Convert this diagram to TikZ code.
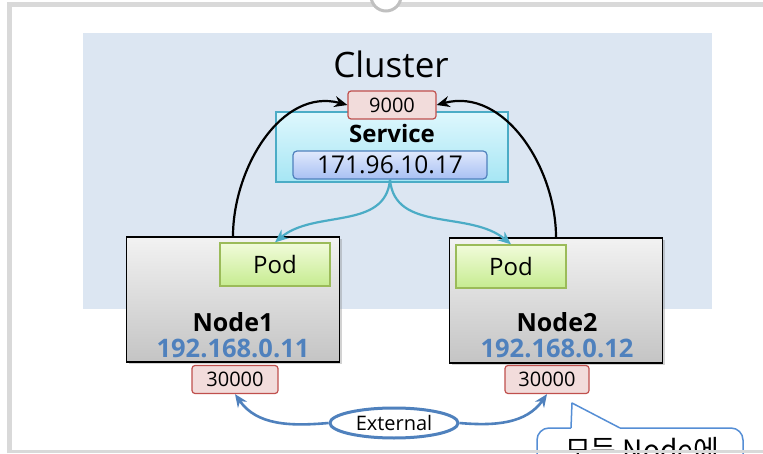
\documentclass[tikz,border=0pt]{standalone}
\usepackage{fontspec}
\setmainfont{Open Sans}
\newfontfamily\kr{Noto Sans CJK KR}
\usetikzlibrary{arrows.meta,shadows,shapes.geometric}

\definecolor{framegray}{HTML}{D9D9D9}
\definecolor{ringgray}{HTML}{C0C0C0}
\definecolor{clusterbg}{HTML}{DCE6F2}
\definecolor{portfill}{HTML}{F2DCDB}
\definecolor{portline}{HTML}{C0504D}
\definecolor{svctop}{HTML}{DEF7FD}
\definecolor{svcbot}{HTML}{A6E6F4}
\definecolor{svcline}{HTML}{4BACC6}
\definecolor{iptop}{HTML}{E0E9FC}
\definecolor{ipbot}{HTML}{A8C0F3}
\definecolor{ipline}{HTML}{4F81BD}
\definecolor{podtop}{HTML}{F1FBDA}
\definecolor{podbot}{HTML}{C6EC90}
\definecolor{podline}{HTML}{9BBB59}
\definecolor{nodetop}{HTML}{F2F2F2}
\definecolor{nodebot}{HTML}{C4C4C4}
\definecolor{addrblue}{HTML}{4F81BD}
\definecolor{callline}{HTML}{558ED5}

\tikzset{
  port/.style={rectangle,rounded corners=3pt,draw=portline,fill=portfill,line width=1.2pt,
    minimum height=28pt,inner sep=0pt,font=\fontsize{20}{22}\selectfont},
  hostbox/.style={rectangle,draw=black,line width=1.3pt,top color=nodetop,bottom color=nodebot,
    minimum width=213pt,minimum height=125pt,
    drop shadow={opacity=0.35,shadow xshift=2pt,shadow yshift=-2pt}},
  podbox/.style={rectangle,draw=podline,line width=1.3pt,top color=podtop,bottom color=podbot,
    minimum width=110pt,minimum height=43pt,font=\fontsize{24}{26}\selectfont},
  hostname/.style={inner sep=0pt,font=\bfseries\fontsize{25}{27}\selectfont},
  hostaddr/.style={inner sep=0pt,text=addrblue,font=\bfseries\fontsize{25.5}{27}\selectfont}
}

\begin{document}
\begin{tikzpicture}[x=1pt,y=1pt]
\useasboundingbox (0,0) rectangle (763,453);
\fill[white] (0,0) rectangle (763,453);

% window frame
\draw[framegray,line width=5pt] (9.5,0) -- (9.5,448.5) -- (763,448.5);
\fill[framegray] (7,0) rectangle (763,3.5);
\draw[ringgray,line width=3pt,fill=white] (386,457) circle (15);

% cluster area
\fill[clusterbg] (83,144) rectangle (712,420);
\node[inner sep=0pt,font=\fontsize{35}{38}\selectfont] (C) at (391,389) {Cluster};

\node[rectangle,draw=svcline,line width=1.3pt,top color=svctop,bottom color=svcbot,
      minimum width=232pt,minimum height=70pt] (S) at (392,306) {};
\node[hostname,font=\bfseries\fontsize{24}{26}\selectfont] (SL) at (392,319) {Service};
\node[rectangle,rounded corners=4pt,draw=ipline,line width=1.2pt,top color=iptop,bottom color=ipbot,
      minimum width=194pt,minimum height=28pt,inner sep=0pt,font=\fontsize{24.5}{26}\selectfont]
      (I) at (390,288) {171.96.10.17};
\node[port,minimum width=88pt] (P) at (392,348) {9000};

% nodes
\node[hostbox] (N1) at (233,153.5) {};
\node[podbox] (D1) at (275,188.5) {Pod};
\node[hostname] (L1) at (233,131) {Node1};
\node[hostaddr] (A1) at (233,105) {192.168.0.11};
\node[port,minimum width=86pt] (E1) at (235,73.5) {30000};

\node[hostbox] (N2) at (556,152.5) {};
\node[podbox] (D2) at (511,186.5) {Pod};
\node[hostname] (L2) at (557,131) {Node2};
\node[hostaddr] (A2) at (557,105) {192.168.0.12};
\node[port,minimum width=84pt] (E2) at (547,73.5) {30000};

\node[ellipse,draw=ipline,line width=3pt,fill=white,minimum width=128pt,minimum height=30pt,
      inner sep=0pt,font=\fontsize{20}{22}\selectfont] (X) at (394,30) {External};

\begin{scope}[>={Stealth[length=13pt,width=11pt]},
              every edge/.style={draw=black,line width=2.2pt}]
    \path [->] (N1.north) edge[out=90,in=165] (P.west);
    \path [->] (N2.north) edge[out=90,in=15] (P.east);
    \path [->] (I.south) edge[draw=svcline,out=-95,in=40] (D1.north);
    \path [->] (I.south) edge[draw=svcline,out=-85,in=140] (D2.north);
    \path [->] (X.west) edge[draw=ipline,line width=2.6pt,out=185,in=-55] (E1.south);
    \path [->] (X.east) edge[draw=ipline,line width=2.6pt,out=-5,in=-125] (E2.south);
\end{scope}

% callout
\draw[callline,line width=1.5pt,fill=white,rounded corners=12pt]
    (620,25) -- (743,25) -- (743,-40) -- (537,-40) -- (537,25) -- (571,25);
\fill[white] (571,23.5) -- (572,50) -- (620,23.5) -- cycle;
\draw[callline,line width=1.5pt,line join=round] (571,25) -- (572,50) -- (620,25);
\node[anchor=base,inner sep=0pt,font=\kr\fontsize{28}{30}\selectfont] (M) at (642,-7) {모든 Node에};
\fill[framegray] (7,0) rectangle (763,3.5);
\end{tikzpicture}
\end{document}
